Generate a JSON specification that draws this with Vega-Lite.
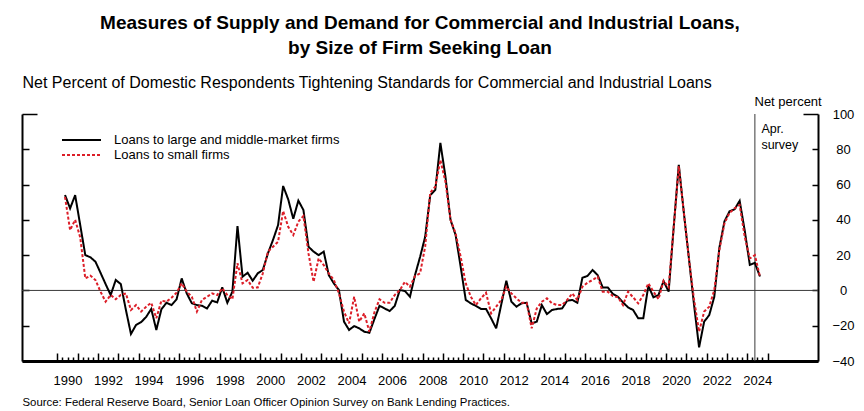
{
  "$schema": "https://vega.github.io/schema/vega-lite/v6.json",
  "autosize": "none",
  "width": 796,
  "height": 247,
  "padding": {"left": 22, "top": 114, "right": 46, "bottom": 50},
  "background": "white",
  "config": {
    "font": "Liberation Sans, Arial, sans-serif",
    "view": {"stroke": null}
  },
  "title": {
    "text": ["Measures of Supply and Demand for Commercial and Industrial Loans,", "by Size of Firm Seeking Loan"],
    "anchor": "middle",
    "frame": "group",
    "fontSize": 19,
    "fontWeight": "bold",
    "color": "black",
    "lineHeight": 25,
    "offset": 16
  },
  "datasets": {
    "tightening": [
      {"period": 1990.375, "large": 54.1, "small": 53},
      {"period": 1990.625, "large": 46.5, "small": 34.2},
      {"period": 1990.875, "large": 54, "small": 40},
      {"period": 1991.125, "large": 37, "small": 30},
      {"period": 1991.375, "large": 20, "small": 6.8},
      {"period": 1991.625, "large": 18.8, "small": 8.4},
      {"period": 1991.875, "large": 16.3, "small": 5.9},
      {"period": 1992.125, "large": 10, "small": -0.7},
      {"period": 1992.375, "large": 3.6, "small": -6.4},
      {"period": 1992.625, "large": -2.6, "small": -2.6},
      {"period": 1992.875, "large": 5.9, "small": -5},
      {"period": 1993.125, "large": 3.6, "small": -2.6},
      {"period": 1993.375, "large": -11, "small": -1.7},
      {"period": 1993.625, "large": -24.7, "small": -11.1},
      {"period": 1993.875, "large": -19.6, "small": -8.3},
      {"period": 1994.125, "large": -18, "small": -12},
      {"period": 1994.375, "large": -15, "small": -9.2},
      {"period": 1994.625, "large": -10.5, "small": -7},
      {"period": 1994.875, "large": -22.4, "small": -15.8},
      {"period": 1995.125, "large": -10.7, "small": -5.8},
      {"period": 1995.375, "large": -7, "small": -6.4},
      {"period": 1995.625, "large": -8.3, "small": -4.1},
      {"period": 1995.875, "large": -5, "small": -1.3},
      {"period": 1996.125, "large": 6.8, "small": 4},
      {"period": 1996.375, "large": -1.7, "small": -0.7},
      {"period": 1996.625, "large": -7.3, "small": -3.6},
      {"period": 1996.875, "large": -8.3, "small": -12},
      {"period": 1997.125, "large": -8.7, "small": -5.4},
      {"period": 1997.375, "large": -10.2, "small": -3.6},
      {"period": 1997.625, "large": -5.8, "small": -1.7},
      {"period": 1997.875, "large": -6.8, "small": -2.6},
      {"period": 1998.125, "large": 1.7, "small": 1.2},
      {"period": 1998.375, "large": -7, "small": -2.6},
      {"period": 1998.625, "large": -0.7, "small": -5},
      {"period": 1998.875, "large": 36.5, "small": 15.4},
      {"period": 1999.125, "large": 7.8, "small": 4},
      {"period": 1999.375, "large": 10, "small": 5.9},
      {"period": 1999.625, "large": 5.5, "small": 1.5},
      {"period": 1999.875, "large": 9.7, "small": 1.7},
      {"period": 2000.125, "large": 11.6, "small": 9.7},
      {"period": 2000.375, "large": 21, "small": 22},
      {"period": 2000.625, "large": 28.6, "small": 24.8},
      {"period": 2000.875, "large": 37, "small": 27.6},
      {"period": 2001.125, "large": 59.2, "small": 45},
      {"period": 2001.375, "large": 51.6, "small": 36.1},
      {"period": 2001.625, "large": 40.6, "small": 31.4},
      {"period": 2001.875, "large": 50.9, "small": 39},
      {"period": 2002.125, "large": 45.6, "small": 42.2},
      {"period": 2002.375, "large": 24.8, "small": 21},
      {"period": 2002.625, "large": 22, "small": 4.9},
      {"period": 2002.875, "large": 20, "small": 18.2},
      {"period": 2003.125, "large": 22, "small": 14.4},
      {"period": 2003.375, "large": 8.7, "small": 9.7},
      {"period": 2003.625, "large": 4, "small": 5.9},
      {"period": 2003.875, "large": 0.2, "small": -1.7},
      {"period": 2004.125, "large": -17.7, "small": -12},
      {"period": 2004.375, "large": -22.4, "small": -18.7},
      {"period": 2004.625, "large": -20.2, "small": -3.6},
      {"period": 2004.875, "large": -21.5, "small": -17.7},
      {"period": 2005.125, "large": -23.4, "small": -13},
      {"period": 2005.375, "large": -24, "small": -23.4},
      {"period": 2005.625, "large": -16.2, "small": -12.4},
      {"period": 2005.875, "large": -8.7, "small": -5},
      {"period": 2006.125, "large": -10.2, "small": -7},
      {"period": 2006.375, "large": -11.7, "small": -7},
      {"period": 2006.625, "large": -8.8, "small": -2.6},
      {"period": 2006.875, "large": 0.2, "small": 0.2},
      {"period": 2007.125, "large": -0.3, "small": 4.9},
      {"period": 2007.375, "large": -3.6, "small": 2.1},
      {"period": 2007.625, "large": 8.7, "small": 8.2},
      {"period": 2007.875, "large": 19, "small": 9.7},
      {"period": 2008.125, "large": 30.4, "small": 24.8},
      {"period": 2008.375, "large": 54, "small": 55.4},
      {"period": 2008.625, "large": 57, "small": 58.8},
      {"period": 2008.875, "large": 83.6, "small": 73.9},
      {"period": 2009.125, "large": 64.5, "small": 61.6},
      {"period": 2009.375, "large": 40, "small": 40},
      {"period": 2009.625, "large": 31.4, "small": 32.4},
      {"period": 2009.875, "large": 13.4, "small": 19.1},
      {"period": 2010.125, "large": -5.4, "small": 4},
      {"period": 2010.375, "large": -7.3, "small": -3.6},
      {"period": 2010.625, "large": -8.8, "small": -8.3},
      {"period": 2010.875, "large": -10.5, "small": -4.5},
      {"period": 2011.125, "large": -10.5, "small": -1.3},
      {"period": 2011.375, "large": -15.8, "small": -13},
      {"period": 2011.625, "large": -21.5, "small": -9.2},
      {"period": 2011.875, "large": -8, "small": -5.4},
      {"period": 2012.125, "large": 5.5, "small": 2.1},
      {"period": 2012.375, "large": -6.4, "small": -1.7},
      {"period": 2012.625, "large": -9.2, "small": -4.5},
      {"period": 2012.875, "large": -7.3, "small": -7},
      {"period": 2013.125, "large": -7, "small": -7},
      {"period": 2013.375, "large": -18.7, "small": -21.5},
      {"period": 2013.625, "large": -17.7, "small": -10.2},
      {"period": 2013.875, "large": -8.3, "small": -6.4},
      {"period": 2014.125, "large": -13.4, "small": -4.5},
      {"period": 2014.375, "large": -11.1, "small": -7.3},
      {"period": 2014.625, "large": -10.5, "small": -8.3},
      {"period": 2014.875, "large": -10.2, "small": -8.3},
      {"period": 2015.125, "large": -5.8, "small": -5.4},
      {"period": 2015.375, "large": -5.4, "small": -1.7},
      {"period": 2015.625, "large": -7, "small": -5.4},
      {"period": 2015.875, "large": 7.2, "small": 2.1},
      {"period": 2016.125, "large": 8.2, "small": 4.4},
      {"period": 2016.375, "large": 11.6, "small": 5.9},
      {"period": 2016.625, "large": 8.7, "small": 7.8},
      {"period": 2016.875, "large": 1.7, "small": -0.7},
      {"period": 2017.125, "large": 1.7, "small": -0.7},
      {"period": 2017.375, "large": -2, "small": -3.2},
      {"period": 2017.625, "large": -3.6, "small": -3.9},
      {"period": 2017.875, "large": -6.8, "small": -8.3},
      {"period": 2018.125, "large": -9.6, "small": -0.7},
      {"period": 2018.375, "large": -11.1, "small": -3.9},
      {"period": 2018.625, "large": -15.8, "small": -7.3},
      {"period": 2018.875, "large": -15.8, "small": -2.6},
      {"period": 2019.125, "large": 2.7, "small": 4},
      {"period": 2019.375, "large": -3.9, "small": -0.7},
      {"period": 2019.625, "large": -2.6, "small": -5},
      {"period": 2019.875, "large": 5.3, "small": 5.5},
      {"period": 2020.125, "large": -0.7, "small": 1.7},
      {"period": 2020.375, "large": 36, "small": 36},
      {"period": 2020.625, "large": 71.2, "small": 70.5},
      {"period": 2020.875, "large": 44, "small": 44},
      {"period": 2021.125, "large": 18, "small": 18},
      {"period": 2021.375, "large": -8, "small": -5},
      {"period": 2021.625, "large": -32.3, "small": -23.4},
      {"period": 2021.875, "large": -17.7, "small": -12},
      {"period": 2022.125, "large": -14, "small": -9.2},
      {"period": 2022.375, "large": -3.6, "small": 0.2},
      {"period": 2022.625, "large": 24.2, "small": 22.9},
      {"period": 2022.875, "large": 39.1, "small": 38},
      {"period": 2023.125, "large": 44.8, "small": 44},
      {"period": 2023.375, "large": 46, "small": 46.5},
      {"period": 2023.625, "large": 50.8, "small": 48.4},
      {"period": 2023.875, "large": 33.9, "small": 30.4},
      {"period": 2024.125, "large": 14.5, "small": 18.2},
      {"period": 2024.375, "large": 15.6, "small": 20},
      {"period": 2024.625, "large": 7.9, "small": 7.8}
    ]
  },
  "resolve": {"axis": {"x": "independent", "y": "independent"}},
  "layer": [
    {
      "data": {"values": [{}]},
      "mark": {"type": "rule", "color": "#3a3a3a", "strokeWidth": 1},
      "encoding": {
        "y": {
          "datum": 0,
          "type": "quantitative",
          "scale": {"domain": [-40, 100], "nice": false, "zero": false},
          "axis": {
            "orient": "left",
            "values": [-40, -20, 0, 20, 40, 60, 80, 100],
            "labels": false,
            "grid": false,
            "tickSize": {"condition": {"test": "datum.value == 100", "value": -15}, "value": -7},
            "tickColor": "black",
            "tickWidth": 1.5,
            "domainColor": "black",
            "domainWidth": 2,
            "title": "Net Percent of Domestic Respondents Tightening Standards for Commercial and Industrial Loans",
            "titleAngle": 0,
            "titleAlign": "left",
            "titleBaseline": "alphabetic",
            "titleX": 0,
            "titleY": -27,
            "titleFontSize": 16,
            "titleFontWeight": "normal",
            "titleColor": "black"
          }
        }
      }
    },
    {
      "data": {"values": [{}]},
      "mark": {"type": "rule", "color": "#3a3a3a", "strokeWidth": 1},
      "encoding": {
        "x": {
          "datum": 2024.375,
          "type": "quantitative",
          "scale": {"domain": [1988.255, 2027.486], "nice": false, "zero": false},
          "axis": null
        }
      }
    },
    {
      "data": {"name": "tightening"},
      "transform": [{"fold": ["large", "small"], "as": ["series", "value"]}],
      "mark": {"type": "line", "strokeWidth": 2, "strokeJoin": "miter", "strokeMiterLimit": 3},
      "encoding": {
        "x": {
          "field": "period",
          "type": "quantitative",
          "axis": {
            "orient": "bottom",
            "values": [1990, 1990.25, 1990.5, 1990.75, 1991, 1991.25, 1991.5, 1991.75, 1992, 1992.25, 1992.5, 1992.75, 1993, 1993.25, 1993.5, 1993.75, 1994, 1994.25, 1994.5, 1994.75, 1995, 1995.25, 1995.5, 1995.75, 1996, 1996.25, 1996.5, 1996.75, 1997, 1997.25, 1997.5, 1997.75, 1998, 1998.25, 1998.5, 1998.75, 1999, 1999.25, 1999.5, 1999.75, 2000, 2000.25, 2000.5, 2000.75, 2001, 2001.25, 2001.5, 2001.75, 2002, 2002.25, 2002.5, 2002.75, 2003, 2003.25, 2003.5, 2003.75, 2004, 2004.25, 2004.5, 2004.75, 2005, 2005.25, 2005.5, 2005.75, 2006, 2006.25, 2006.5, 2006.75, 2007, 2007.25, 2007.5, 2007.75, 2008, 2008.25, 2008.5, 2008.75, 2009, 2009.25, 2009.5, 2009.75, 2010, 2010.25, 2010.5, 2010.75, 2011, 2011.25, 2011.5, 2011.75, 2012, 2012.25, 2012.5, 2012.75, 2013, 2013.25, 2013.5, 2013.75, 2014, 2014.25, 2014.5, 2014.75, 2015, 2015.25, 2015.5, 2015.75, 2016, 2016.25, 2016.5, 2016.75, 2017, 2017.25, 2017.5, 2017.75, 2018, 2018.25, 2018.5, 2018.75, 2019, 2019.25, 2019.5, 2019.75, 2020, 2020.25, 2020.5, 2020.75, 2021, 2021.25, 2021.5, 2021.75, 2022, 2022.25, 2022.5, 2022.75, 2023, 2023.25, 2023.5, 2023.75, 2024, 2024.25, 2024.5, 2024.75, 2025],
            "labelExpr": "datum.value % 2 == 0 ? format(datum.value, 'd') : ''",
            "labelOverlap": false,
            "labelFlush": false,
            "labelBound": false,
            "labelOffset": 10,
            "labelPadding": 21,
            "labelBaseline": "top",
            "labelFontSize": 13,
            "labelColor": "black",
            "grid": false,
            "tickSize": {"condition": {"test": "datum.value % 1 == 0", "value": -8}, "value": -4},
            "tickColor": "black",
            "tickWidth": 1.5,
            "domainColor": "black",
            "domainWidth": 3,
            "title": "Source:  Federal Reserve Board, Senior Loan Officer Opinion Survey on Bank Lending Practices.",
            "titleX": 0,
            "titleY": 44,
            "titleAlign": "left",
            "titleBaseline": "alphabetic",
            "titleFontSize": 11.4,
            "titleFontWeight": "normal",
            "titleColor": "black"
          }
        },
        "y": {
          "field": "value",
          "type": "quantitative",
          "axis": {
            "orient": "right",
            "values": [-40, -20, 0, 20, 40, 60, 80, 100],
            "grid": false,
            "tickSize": {"condition": {"test": "datum.value == 100", "value": -15}, "value": -6},
            "labelPadding": {"condition": {"test": "datum.value == 100", "value": 40}, "value": 31},
            "labelAlign": "center",
            "labelBaseline": "middle",
            "labelFontSize": 13,
            "labelColor": "black",
            "tickColor": "black",
            "tickWidth": 1.5,
            "domainColor": "black",
            "domainWidth": 2,
            "title": "Net percent",
            "titleAngle": 0,
            "titleAlign": "left",
            "titleBaseline": "alphabetic",
            "titleX": -64,
            "titleY": -9,
            "titleFontSize": 13,
            "titleFontWeight": "normal",
            "titleColor": "black"
          }
        },
        "color": {
          "field": "series",
          "type": "nominal",
          "scale": {"domain": ["large", "small"], "range": ["black", "#dc1e28"]},
          "legend": {
            "orient": "none",
            "legendX": 52,
            "legendY": 18.5,
            "title": null,
            "symbolType": "M-3,0H3",
            "symbolSize": 169,
            "symbolStrokeWidth": 2,
            "labelOffset": 25,
            "labelFontSize": 13,
            "labelColor": "black",
            "labelLimit": 400,
            "rowPadding": 0,
            "padding": 0,
            "labelExpr": "datum.value == 'large' ? 'Loans to large and middle-market firms' : 'Loans to small firms'"
          }
        },
        "strokeDash": {
          "field": "series",
          "type": "nominal",
          "scale": {"domain": ["large", "small"], "range": [[1, 0], [3, 2]]},
          "legend": {
            "orient": "none",
            "legendX": 52,
            "legendY": 18.5,
            "title": null,
            "symbolType": "M-3,0H3",
            "symbolSize": 169,
            "symbolStrokeWidth": 2,
            "labelOffset": 25,
            "labelFontSize": 13,
            "labelColor": "black",
            "labelLimit": 400,
            "rowPadding": 0,
            "padding": 0,
            "labelExpr": "datum.value == 'large' ? 'Loans to large and middle-market firms' : 'Loans to small firms'"
          }
        }
      }
    },
    {
      "data": {"values": [{}]},
      "mark": {"type": "text", "text": ["Apr.", "survey"], "align": "left", "baseline": "top", "dx": 6.5, "fontSize": 12.5, "lineHeight": 16, "color": "black"},
      "encoding": {
        "x": {"datum": 2024.375, "type": "quantitative", "axis": null},
        "y": {"datum": 95, "type": "quantitative", "axis": null}
      }
    }
  ]
}
